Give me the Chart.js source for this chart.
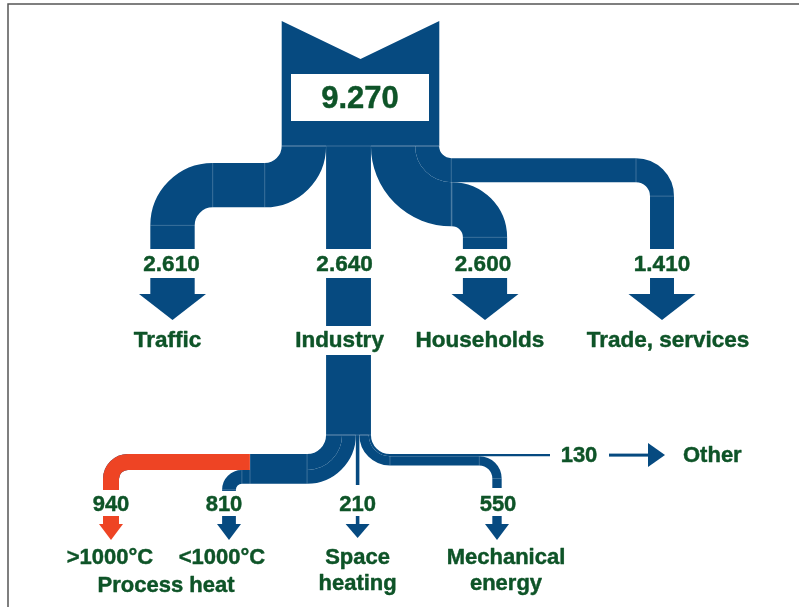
<!DOCTYPE html>
<html>
<head>
<meta charset="utf-8">
<script src="https://cdn.jsdelivr.net/npm/chart.js@4.4.1/dist/chart.umd.min.js"></script>
<style>
  html, body { margin: 0; padding: 0; background: #ffffff; }
  #wrap { width: 799px; height: 607px; }
</style>
</head>
<body>
<div id="wrap"><canvas id="c" width="799" height="607"></canvas></div>
<script>
// ---------------- DATA ----------------
const totalValue = 9270;
const sectorNames = ['Traffic', 'Industry', 'Households', 'Trade, services'];
const sectorValues = [2610, 2640, 2600, 1410];
const industryUseNames = ['>1000°C', '<1000°C', 'Space heating', 'Mechanical energy', 'Other'];
const industryUseLines = [['>1000°C'], ['<1000°C'], ['Space', 'heating'], ['Mechanical', 'energy'], ['Other']];
const industryUseValues = [940, 810, 210, 550, 130];
const processHeatLabel = 'Process heat';   // groups the first two industry uses

// ---------------- STYLE / LAYOUT ----------------
const FLOW_UNIT = 0.017;            // axis units per energy unit (flow width)
const COLORS = { flow: '#064a80', hot: '#ee4424', text: '#0e5428', seam: 'rgba(255,255,255,0.22)', frame: '#555555' };
const FONT = '"Liberation Sans", Arial, sans-serif';
const TOP = { cx: 360.5, top: 21, notch: 59, bottom: 146, box: [291, 74, 429, 121], totalBase: 108, totalSize: 31 };
const SECTOR_COL_X = [172.5, null, 485, 662];
const TURN = { trafficOut: 17, trafficDown: 18, rightOut: 12, householdsDown: 11, tradeDown: 14 };
const ROW = { pipeEnd: 249, numBase: 271, shaftTop: 278, headTop: 294, tip: 320, nameBase: 347, headW: 67,
              indSeg1: [278, 326], indSeg2: [355, 435], size: 22.5 };
const SECTOR_NAME_DX = [-5, -9, -5, 6];
const SECTOR_NUM_DX = [-1, -4, -2, 0];

const USE_COL_X = [111, 229, null, 497];
const BOT = { split: 435, leftR: 19, rightR: 19, redDown: 9, lowDown: 6, mechDown: 13,
              ends: [490, 491, 485, 488], numBase: 511, shaftTop: 516, headTop: 524, tip: 540, headW: 24,
              name1: 564, name2: 590, hotFromX: 250, otherEnd: 550, otherNumX: 579, arrowX0: 609,
              arrowHeadX: 648, arrowTip: 665, arrowHalf: 12, otherNameX: 683, size: 22 };
const USE_NAME_DX = [-1, -7, 0, 9];
const USE_NUM_DX = [0, -5, 0, 1];

function fmt(v) { return String(v).replace(/\B(?=(\d{3})+(?!\d))/g, '.'); }

const sankeyPlugin = {
  id: 'sankeyFlows',
  afterDraw(chart) {
    const ctx = chart.ctx, xs = chart.scales.x, ys = chart.scales.y;
    const X = v => xs.getPixelForValue(v), Y = v => ys.getPixelForValue(v);
    const L = v => X(v) - X(0);
    const k = FLOW_UNIT;
    ctx.save();

    // frame
    ctx.strokeStyle = COLORS.frame; ctx.lineWidth = 1.5;
    ctx.beginPath(); ctx.moveTo(X(8), Y(607)); ctx.lineTo(X(8), Y(4)); ctx.lineTo(X(799), Y(4)); ctx.stroke();

    function unit(a, b) { const dx = b[0] - a[0], dy = b[1] - a[1], l = Math.hypot(dx, dy) || 1; return [dx / l, dy / l]; }
    function strokePipe(p) {
      const pts = p.pts;
      ctx.beginPath();
      ctx.moveTo(X(pts[0][0]), Y(pts[0][1]));
      for (let i = 1; i < pts.length - 1; i++) {
        ctx.arcTo(X(pts[i][0]), Y(pts[i][1]), X(pts[i + 1][0]), Y(pts[i + 1][1]), L(p.radii[i - 1]));
      }
      const e = pts[pts.length - 1];
      ctx.lineTo(X(e[0]), Y(e[1]));
      ctx.lineWidth = L(p.w); ctx.strokeStyle = p.color || COLORS.flow; ctx.lineCap = 'butt'; ctx.lineJoin = 'miter';
      ctx.stroke();
    }
    function seamAt(pt, dir, w) {
      const px = -dir[1], py = dir[0];
      ctx.beginPath();
      ctx.moveTo(X(pt[0] + px * w / 2), Y(pt[1] + py * w / 2));
      ctx.lineTo(X(pt[0] - px * w / 2), Y(pt[1] - py * w / 2));
      ctx.stroke();
    }
    function pipeSeams(p) {
      if (p.w < 5) return;
      for (let i = 1; i < p.pts.length - 1; i++) {
        const a = p.pts[i - 1], c = p.pts[i], b = p.pts[i + 1], r = p.radii[i - 1];
        const d1 = unit(a, c), d2 = unit(c, b);
        seamAt([c[0] - d1[0] * r, c[1] - d1[1] * r], d1, p.w);
        seamAt([c[0] + d2[0] * r, c[1] + d2[1] * r], d2, p.w);
      }
    }
    function downArrow(x, shaftTop, headTop, tip, shaftW, headW, color) {
      ctx.fillStyle = color;
      ctx.fillRect(X(x - shaftW / 2), Y(shaftTop), L(shaftW), Y(headTop) - Y(shaftTop) + 0.5);
      ctx.beginPath();
      ctx.moveTo(X(x - headW / 2), Y(headTop)); ctx.lineTo(X(x + headW / 2), Y(headTop)); ctx.lineTo(X(x), Y(tip));
      ctx.closePath(); ctx.fill();
    }
    function text(t, x, yb, size, align) {
      ctx.font = 'bold ' + size + 'px ' + FONT;
      ctx.textAlign = align || 'center'; ctx.textBaseline = 'alphabetic';
      ctx.fillStyle = COLORS.text; ctx.strokeStyle = COLORS.text; ctx.lineWidth = 0.45; ctx.lineJoin = 'round';
      ctx.fillText(t, X(x), Y(yb));
      ctx.strokeText(t, X(x), Y(yb));
    }

    // ---------- top source block ----------
    const wTot = totalValue * k, bl = TOP.cx - wTot / 2, br = TOP.cx + wTot / 2;
    ctx.fillStyle = COLORS.flow;
    ctx.beginPath();
    ctx.moveTo(X(bl), Y(TOP.top)); ctx.lineTo(X(TOP.cx), Y(TOP.notch)); ctx.lineTo(X(br), Y(TOP.top));
    ctx.lineTo(X(br), Y(TOP.bottom)); ctx.lineTo(X(bl), Y(TOP.bottom)); ctx.closePath(); ctx.fill();
    const bx = TOP.box;
    ctx.fillStyle = '#ffffff';
    ctx.fillRect(X(bx[0]), Y(bx[1]), L(bx[2] - bx[0]), Y(bx[3]) - Y(bx[1]));

    // ---------- sector flows ----------
    const w = sectorValues.map(v => v * k);
    const left = []; let acc = bl; w.forEach(x => { left.push(acc); acc += x; });
    const centre = left.map((l, i) => l + w[i] / 2);
    const colX = SECTOR_COL_X.map((x, i) => (x === null ? centre[i] : x));
    const pipes = [];
    const B = TOP.bottom, PE = ROW.pipeEnd;
    // Traffic (turns left)
    { const r = TURN.trafficOut + (centre[0] - bl), hy = B + r;
      pipes.push({ pts: [[centre[0], B], [centre[0], hy], [colX[0], hy], [colX[0], PE]], radii: [r, TURN.trafficDown + w[0] / 2], w: w[0] }); }
    // Industry (straight)
    pipes.push({ pts: [[colX[1], B], [colX[1], PE]], radii: [], w: w[1] });
    pipes.push({ pts: [[colX[1], ROW.indSeg1[0]], [colX[1], ROW.indSeg1[1]]], radii: [], w: w[1] });
    pipes.push({ pts: [[colX[1], ROW.indSeg2[0]], [colX[1], ROW.indSeg2[1]]], radii: [], w: w[1] });
    // Households & Trade (turn right)
    const topRightTurns = { 2: TURN.householdsDown, 3: TURN.tradeDown };
    [2, 3].forEach(i => {
      const r = TURN.rightOut + (br - centre[i]), hy = B + r;
      pipes.push({ pts: [[centre[i], B], [centre[i], hy], [colX[i], hy], [colX[i], PE]], radii: [r, topRightTurns[i] + w[i] / 2], w: w[i] });
    });

    // ---------- industry breakdown ----------
    const indL = left[1], indR = left[1] + w[1];
    const u = industryUseValues.map(v => v * k);
    const sl = []; acc = indL; u.forEach(x => { sl.push(acc); acc += x; });
    const sc = sl.map((l, j) => l + u[j] / 2);
    const useX = USE_COL_X.map((x, j) => (x === null ? sc[j] : x));
    const S = BOT.split;
    const downR = [BOT.redDown, BOT.lowDown];
    const leftPipes = [0, 1].map(j => {
      const r = BOT.leftR + (sc[j] - indL), hy = S + r;
      const p = { pts: [[sc[j], S], [sc[j], hy], [useX[j], hy], [useX[j], BOT.ends[j]]], radii: [r, downR[j] + u[j] / 2], w: u[j], hy };
      pipes.push(p); return p;
    });
    pipes.push({ pts: [[sc[2], S], [sc[2], BOT.ends[2]]], radii: [], w: u[2] });
    const rMech = BOT.rightR + (indR - sc[3]), hyMech = S + rMech;
    pipes.push({ pts: [[sc[3], S], [sc[3], hyMech], [useX[3], hyMech], [useX[3], BOT.ends[3]]], radii: [rMech, BOT.mechDown + u[3] / 2], w: u[3] });
    const rOther = BOT.rightR + (indR - sc[4]), hyOther = S + rOther;
    pipes.push({ pts: [[sc[4], S], [sc[4], hyOther], [BOT.otherEnd, hyOther]], radii: [rOther], w: u[4] });

    pipes.forEach(strokePipe);

    // seams
    ctx.strokeStyle = COLORS.seam; ctx.lineWidth = 1;
    pipes.forEach(pipeSeams);
    seamAt([TOP.cx, B], [0, 1], wTot);
    seamAt([(indL + indR) / 2, S], [0, 1], w[1]);

    // hot (>1000°C) part in red
    ctx.save();
    ctx.beginPath(); ctx.rect(X(0), Y(0), L(BOT.hotFromX), Y(607) - Y(0)); ctx.clip();
    strokePipe(Object.assign({}, leftPipes[0], { color: COLORS.hot }));
    ctx.restore();
    ctx.strokeStyle = COLORS.seam; ctx.lineWidth = 1;
    ctx.beginPath();
    ctx.moveTo(X(BOT.hotFromX), Y(leftPipes[0].hy - u[0] / 2));
    ctx.lineTo(X(BOT.hotFromX), Y(leftPipes[1].hy + u[1] / 2));
    ctx.stroke();

    // ---------- arrows ----------
    [0, 2, 3].forEach(i => downArrow(colX[i], ROW.shaftTop, ROW.headTop, ROW.tip, w[i], ROW.headW, COLORS.flow));
    [0, 1, 2, 3].forEach(j => downArrow(useX[j], BOT.shaftTop, BOT.headTop, BOT.tip - (j === 2 ? 2 : 0), Math.max(u[j], 3), BOT.headW, j === 0 ? COLORS.hot : COLORS.flow));
    // Other arrow (horizontal)
    ctx.fillStyle = COLORS.flow;
    ctx.fillRect(X(BOT.arrowX0), Y(hyOther - 1.5), L(BOT.arrowHeadX - BOT.arrowX0), Y(hyOther + 1.5) - Y(hyOther - 1.5));
    ctx.beginPath();
    ctx.moveTo(X(BOT.arrowHeadX), Y(hyOther - BOT.arrowHalf)); ctx.lineTo(X(BOT.arrowTip), Y(hyOther));
    ctx.lineTo(X(BOT.arrowHeadX), Y(hyOther + BOT.arrowHalf)); ctx.closePath(); ctx.fill();

    // ---------- text ----------
    text(fmt(totalValue), (bx[0] + bx[2]) / 2, TOP.totalBase, TOP.totalSize);
    sectorNames.forEach((n, i) => {
      text(fmt(sectorValues[i]), colX[i] + SECTOR_NUM_DX[i], ROW.numBase, ROW.size);
      text(n, colX[i] + SECTOR_NAME_DX[i], ROW.nameBase, ROW.size);
    });
    [0, 1, 2, 3].forEach(j => {
      text(fmt(industryUseValues[j]), useX[j] + USE_NUM_DX[j], BOT.numBase, BOT.size);
      industryUseLines[j].forEach((ln, li) => text(ln, useX[j] + USE_NAME_DX[j], li === 0 ? BOT.name1 : BOT.name2, BOT.size));
    });
    text(processHeatLabel, (useX[0] + USE_NAME_DX[0] + useX[1] + USE_NAME_DX[1]) / 2, BOT.name2 + 2, BOT.size);
    text(fmt(industryUseValues[4]), BOT.otherNumX, hyOther + 7, BOT.size);
    text(industryUseLines[4][0], BOT.otherNameX, hyOther + 7, BOT.size, 'left');

    ctx.restore();
  }
};

new Chart(document.getElementById('c'), {
  type: 'scatter',
  data: { datasets: [{ label: 'flows', data: [], pointRadius: 0 }] },
  options: {
    responsive: false,
    animation: false,
    devicePixelRatio: 1,
    layout: { padding: 0 },
    scales: {
      x: { type: 'linear', min: 0, max: 799, display: false },
      y: { type: 'linear', min: 0, max: 607, reverse: true, display: false }
    },
    plugins: { legend: { display: false }, tooltip: { enabled: false }, title: { display: false } }
  },
  plugins: [sankeyPlugin]
});
</script>
</body>
</html>
